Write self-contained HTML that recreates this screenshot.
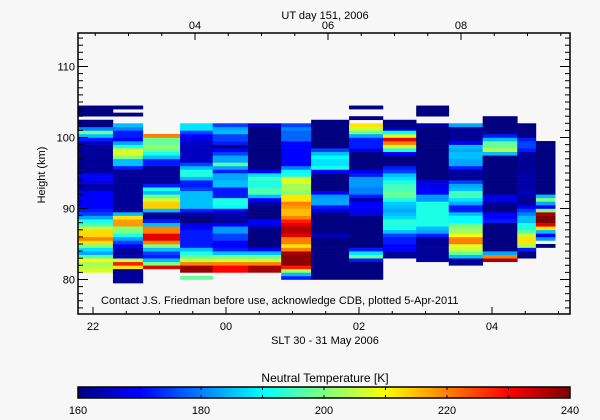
<!DOCTYPE html>
<html><head><meta charset="utf-8">
<style>
html,body{margin:0;padding:0;background:#f7f7f7;}
svg{display:block;font-family:"Liberation Sans",sans-serif;}
</style></head>
<body>
<svg id="chart" width="600" height="420" viewBox="0 0 600 420" xmlns="http://www.w3.org/2000/svg">
<rect x="0" y="0" width="600" height="420" fill="#f7f7f7"/>
<g id="cells"></g>
<g id="axes"></g>
<text x="325" y="19" font-size="11" text-anchor="middle">UT day 151, 2006</text>
<text x="45" y="175" font-size="11" text-anchor="middle" transform="rotate(-90 45 175)">Height (km)</text>
<text x="101" y="304" font-size="11">Contact J.S. Friedman before use, acknowledge CDB, plotted 5-Apr-2011</text>
<text x="325" y="344" font-size="11" text-anchor="middle">SLT 30 - 31 May 2006</text>
<text x="325" y="382" font-size="12" text-anchor="middle">Neutral Temperature [K]</text>
<g id="cbar"></g>
</svg>
<script>
// ---- data ----
const colStart = [21.77,22.30,22.75,23.31,23.80,24.33,24.83,25.28,25.85,26.36,26.86,27.35,27.86,28.38,28.66];
const colEnd   = [22.30,22.75,23.31,23.80,24.33,24.83,25.28,25.85,26.36,26.86,27.35,27.86,28.38,28.66,28.95];
// first 0.5-km bin index per column (bin k spans 80+0.5k .. 80+0.5(k+1) km)
const colFirstBin = [2,-1,3,0,2,2,0,0,0,6,5,4,5,6,9];
const N=null;
const col1 = [207,205,203,210,196,183,188,200,212,220,213,213,205,196,192,183,175,172,170,170,170,170,170,164,163,168,170,170,162,162,162,162,162,162,162,162,165,172,185,198,180,160,160,N,160,160,160];
const col2 = [162,162,162,162,212,228,205,165,162,163,170,175,183,192,200,200,218,218,212,185,162,162,162,162,162,162,162,162,162,162,162,162,172,185,185,200,207,207,192,183,170,172,172,180,185,N,N,160,N,160];
const col3 = [232,200,185,172,175,185,200,220,232,232,220,220,185,172,162,162,185,214,214,206,198,185,192,172,162,162,162,162,162,172,172,185,192,198,202,198,198,220];
const col4 = [198,N,238,238,220,205,198,192,185,172,172,172,172,172,170,168,160,160,163,172,185,185,185,185,185,175,172,172,185,193,192,185,175,165,165,165,165,165,165,168,170,175,188,188];
const col5 = [230,230,220,207,198,185,172,170,170,175,175,182,182,170,162,163,163,170,190,192,192,172,172,172,185,185,183,183,172,183,197,183,183,175,170,160,172,175,175,185,183,175];
const col6 = [237,237,220,206,198,185,170,160,160,160,160,160,162,168,170,160,160,160,160,163,170,185,196,196,192,192,195,188,170,160,160,160,160,160,160,160,160,160,160,160,160,165];
const col7 = [172,185,203,228,239,239,239,237,220,212,220,220,232,236,236,232,228,220,215,215,218,220,212,212,200,203,203,207,207,192,190,180,170,170,170,170,170,170,170,178,178,178,180,175];
const col8 = [160,160,160,160,160,160,160,160,160,160,160,160,165,160,160,160,160,160,160,168,172,183,183,182,170,160,160,160,160,160,170,192,188,188,190,185,175,160,160,160,160,160,160,160,160];
const col9 = [160,160,160,160,160,172,198,188,172,160,160,160,160,160,160,160,160,160,168,168,170,170,163,172,180,180,182,182,182,172,168,160,160,160,160,160,168,172,172,172,183,198,206,212,N,160,N,N,160];
const col10 = [162,162,170,170,172,172,175,185,192,192,193,187,185,183,185,186,192,198,198,196,195,192,188,185,175,172,160,160,160,170,192,206,220,232,207,190,165,160,160];
const col11 = [163,162,162,162,162,162,162,172,183,185,192,192,192,192,192,192,192,182,182,170,170,168,168,160,160,160,160,160,160,160,160,160,160,160,160,160,160,160,163,N,N,160,160,160];
const col12 = [162,162,185,198,206,207,220,220,210,202,202,198,190,190,185,172,172,183,188,195,195,185,183,175,162,162,163,172,183,183,185,185,183,185,170,162,162,162,162,183];
const col13 = [237,220,183,160,160,160,160,160,160,160,160,172,170,170,160,160,163,168,168,160,160,160,160,160,160,160,160,160,160,160,185,205,198,198,185,172,160,160,160,160,160];
const col14 = [160,160,172,203,212,212,206,198,192,192,185,185,180,175,170,162,162,162,165,163,163,163,163,163,162,162,162,162,162,163,172,175,175,172,160,160,160,160];
const col15 = [160,N,182,170,185,212,232,240,240,237,200,170,183,200,185,160,160,160,160,160,160,160,160,160,160,160,160,160,160,160];
const columns = [col1,col2,col3,col4,col5,col6,col7,col8,col9,col10,col11,col12,col13,col14,col15];
const yTicks = [80,90,100,110];
const xTickLabels = ["22","00","02","04"];
const xTickHours = [22,24,26,28];
const topTickLabels = ["04","06","08"];
const topTickUT = [4,6,8];
const cbarLabels = [160,180,200,220,240];

// ---- scales ----
const X0=78,X1=570,Y0=33,Y1=314;
const xs = h => 93 + (h-22)*66.5;
const ys = km => 279.5 - (km-80)*7.1;
const utOffset = 4 - 23.534; // UT = SLT + offset
const tmin=160,tmax=240;
function jet(t){
  let v=(t-tmin)/(tmax-tmin); v=Math.max(0,Math.min(1,v));
  const stops=[[0,0,0,128],[0.125,0,0,255],[0.375,0,255,255],[0.625,255,255,0],[0.875,255,0,0],[1,128,0,0]];
  for(let i=1;i<stops.length;i++){ if(v<=stops[i][0]){const a=stops[i-1],b=stops[i],f=(v-a[0])/(b[0]-a[0]);
    return `rgb(${Math.round(a[1]+f*(b[1]-a[1]))},${Math.round(a[2]+f*(b[2]-a[2]))},${Math.round(a[3]+f*(b[3]-a[3]))})`;}}
  return 'rgb(128,0,0)';
}
const NS="http://www.w3.org/2000/svg";
function mk(tag,attrs,parent){const e=document.createElementNS(NS,tag);for(const k in attrs)e.setAttribute(k,attrs[k]);parent.appendChild(e);return e;}

const cells=document.getElementById('cells');
columns.forEach((col,ci)=>{
  const xa=xs(colStart[ci]), xb=xs(colEnd[ci]);
  col.forEach((val,j)=>{
    if(val===null) return;
    const k=colFirstBin[ci]+j;
    const ya=ys(80+0.5*(k+1)), yb=ys(80+0.5*k);
    const r=mk('rect',{x:xa.toFixed(2),y:ya.toFixed(2),width:(xb-xa+0.3).toFixed(2),height:(yb-ya+0.3).toFixed(2),fill:jet(val)},cells);
    
    
  });
});

const ax=document.getElementById('axes');
const frame=mk('rect',{x:X0,y:Y0,width:X1-X0,height:Y1-Y0,fill:'none',stroke:'#000','stroke-width':1.5},ax);


// y ticks
for(let km=76;km<=114;km++){
  const y=ys(km); if(y<Y0||y>Y1) continue;
  const major=(km%10===0), L=major?10:5;
  mk('line',{x1:X0,y1:y,x2:X0+L,y2:y,stroke:'#000','stroke-width':1},ax);
  mk('line',{x1:X1,y1:y,x2:X1-L,y2:y,stroke:'#000','stroke-width':1},ax);
}
yTicks.forEach(v=>{
  const t=mk('text',{x:75,y:ys(v)+4,'font-size':11,'text-anchor':'end'},ax);
  t.textContent=v;
  
  
});
// bottom ticks
for(let h=21.5;h<=29.5;h+=0.5){
  const x=xs(h); if(x<X0||x>X1) continue;
  const major=(Math.abs(h-Math.round(h))<1e-6 && Math.round(h)%2===0);
  mk('line',{x1:x,y1:Y1,x2:x,y2:Y1-(major?7:3),stroke:'#000','stroke-width':1},ax);
}
xTickHours.forEach((h,i)=>{
  const t=mk('text',{x:xs(h),y:330,'font-size':11,'text-anchor':'middle'},ax);
  t.textContent=xTickLabels[i];
  
  
});
// top ticks
for(let u=1;u<=10;u+=0.5){
  const x=xs(u-utOffset); if(x<X0||x>X1) continue;
  const major=(Math.abs(u-Math.round(u))<1e-6 && Math.round(u)%2===0);
  mk('line',{x1:x,y1:Y0,x2:x,y2:Y0+(major?7:3),stroke:'#000','stroke-width':1},ax);
}
topTickUT.forEach((u,i)=>{
  const t=mk('text',{x:xs(u-utOffset),y:29,'font-size':11,'text-anchor':'middle'},ax);
  t.textContent=topTickLabels[i];
  
  
});
// colorbar
const cb=document.getElementById('cbar');
const CX0=78,CX1=570,CY0=387,CY1=398;
const defs=mk('defs',{},cb);
const grad=mk('linearGradient',{id:'jetg',x1:0,y1:0,x2:1,y2:0},defs);
for(let i=0;i<=40;i++){const t=tmin+(tmax-tmin)*i/40; mk('stop',{offset:(i/40),'stop-color':jet(t)},grad);}
const cr=mk('rect',{x:CX0,y:CY0,width:CX1-CX0,height:CY1-CY0,fill:'url(#jetg)',stroke:'#000','stroke-width':1.5},cb);


const cxs=t=>CX0+(t-tmin)/(tmax-tmin)*(CX1-CX0);
for(let t=tmin;t<=tmax;t+=10){
  mk('line',{x1:cxs(t),y1:CY1,x2:cxs(t),y2:CY1-3,stroke:'#000','stroke-width':1},cb);
  mk('line',{x1:cxs(t),y1:CY0,x2:cxs(t),y2:CY0+3,stroke:'#000','stroke-width':1},cb);
}
cbarLabels.forEach(v=>{
  const t=mk('text',{x:cxs(v),y:414,'font-size':11,'text-anchor':'middle'},cb);
  t.textContent=v;
  
  
});
</script>
</body></html>
